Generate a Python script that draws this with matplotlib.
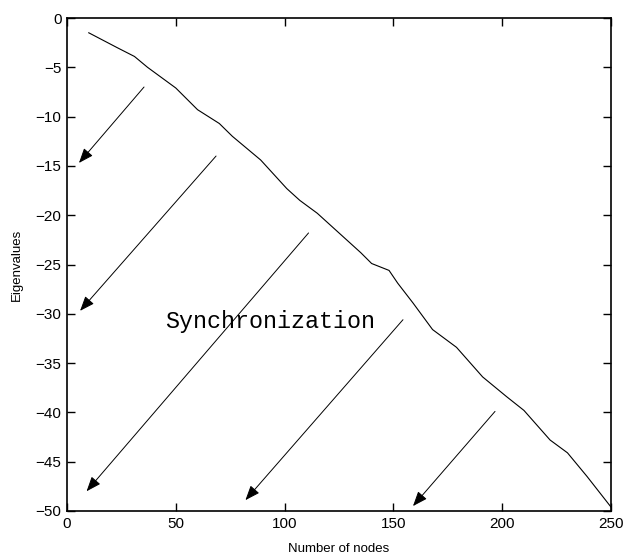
import matplotlib
matplotlib.use("Agg")
import matplotlib.pyplot as plt

# eigenvalue curve
nodes = [10, 23, 31, 37, 50, 60, 70, 76, 89, 101, 107, 115, 135, 140, 148,
         152, 159, 168, 179, 191, 202, 210, 222, 230, 239, 250]
eig = [-1.5, -3.0, -3.9, -5.0, -7.1, -9.3, -10.7, -12.0, -14.4, -17.3, -18.5,
       -19.8, -23.8, -24.9, -25.6, -26.9, -28.9, -31.6, -33.4, -36.4, -38.4,
       -39.8, -42.8, -44.1, -46.5, -49.6]

# arrows: (tail x, tail y, head x, head y)
arrow_tail_x = [35.4, 68.5, 111.0, 154.4, 196.7]
arrow_tail_y = [-7.0, -14.0, -21.8, -30.6, -39.9]
arrow_head_x = [5.5, 6.0, 9.0, 82.0, 159.0]
arrow_head_y = [-14.7, -29.7, -48.0, -48.9, -49.5]

label_text = "Synchronization"

fig = plt.figure(figsize=(6.25, 5.6), dpi=100)
ax = fig.add_axes([67 / 625, 1 - 511 / 560, 544 / 625, 493 / 560])

ax.plot(nodes, eig, color="black", linewidth=0.8)

for tx, ty, hx, hy in zip(arrow_tail_x, arrow_tail_y, arrow_head_x, arrow_head_y):
    ax.annotate("", xy=(hx, hy), xytext=(tx, ty),
                arrowprops=dict(arrowstyle="-|>,head_length=0.9,head_width=0.35",
                                color="black", lw=0.7, shrinkA=0, shrinkB=0))

ax.text(45, -30.8, label_text, family="Liberation Mono", fontsize=16.8,
        ha="left", va="center")

ax.set_xlim(0, 250)
ax.set_ylim(-50, 0)
ax.set_xticks([0, 50, 100, 150, 200, 250])
ax.set_yticks(range(-50, 1, 5))
ax.tick_params(direction="in", top=True, right=True, length=6, width=1,
               labelsize=11, pad=4)
for lab in ax.get_xticklabels() + ax.get_yticklabels():
    lab.set_family("Liberation Sans")
for sp in ax.spines.values():
    sp.set_linewidth(1.2)

ax.set_xlabel("Number of nodes", family="Liberation Sans", fontsize=9.5, labelpad=9)
ax.set_ylabel("Eigenvalues", family="Liberation Sans", fontsize=9.5, labelpad=9)

fig.savefig("out.png", dpi=100)
